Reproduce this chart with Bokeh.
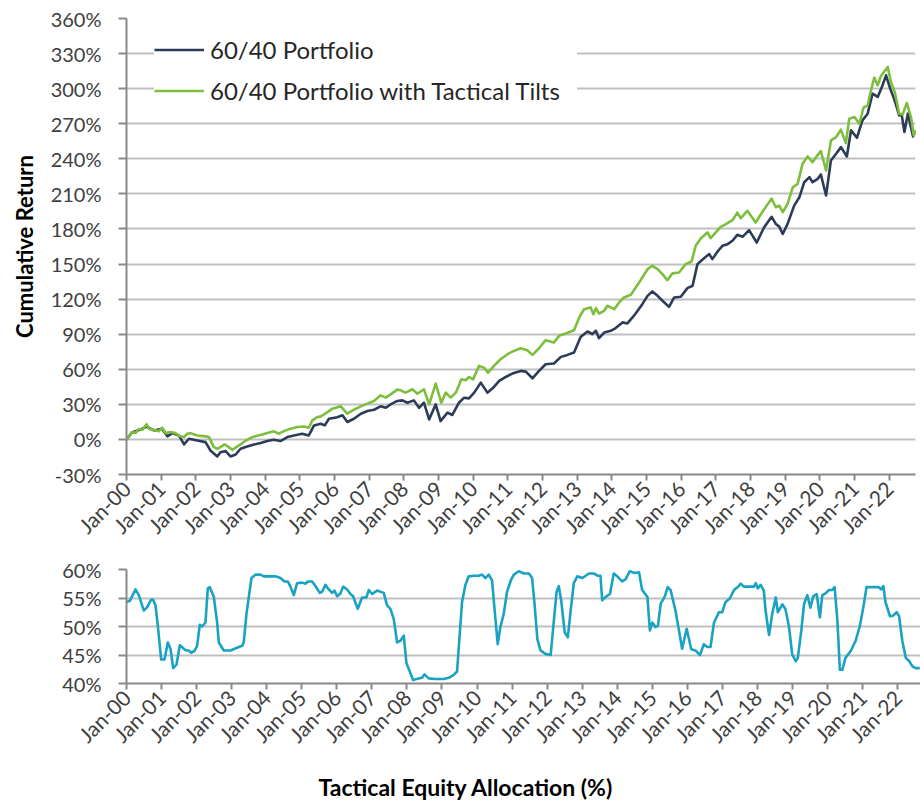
import math
from bokeh.plotting import figure
from bokeh.layouts import column
from bokeh.models import FixedTicker, PrintfTickFormatter, Range1d, Legend, LegendItem, Title
from bokeh.embed import file_html
from bokeh.resources import INLINE

# ---------------- data ----------------
year_ticks = list(range(0, 23))
year_labels = ["Jan-00", "Jan-01", "Jan-02", "Jan-03", "Jan-04", "Jan-05", "Jan-06", "Jan-07",
               "Jan-08", "Jan-09", "Jan-10", "Jan-11", "Jan-12", "Jan-13", "Jan-14", "Jan-15",
               "Jan-16", "Jan-17", "Jan-18", "Jan-19", "Jan-20", "Jan-21", "Jan-22"]

ret_ticks = [-30, 0, 30, 60, 90, 120, 150, 180, 210, 240, 270, 300, 330, 360]
alloc_ticks = [40, 45, 50, 55, 60]

# 60/40 Portfolio: time (years since Jan-2000), cumulative return (%)
base_t = [0.0, 0.16, 0.36, 0.58, 0.79, 1.03, 1.18, 1.32, 1.51, 1.66, 1.8, 2.04, 2.28, 2.42, 2.62,
          2.71, 2.86, 3.0, 3.15, 3.29, 3.48, 3.68, 3.87, 4.06, 4.25, 4.44, 4.64, 4.83, 5.07, 5.26,
          5.41, 5.6, 5.72, 5.84, 6.08, 6.23, 6.37, 6.56, 6.76, 6.95, 7.14, 7.33, 7.48, 7.62, 7.81,
          7.96, 8.1, 8.29, 8.44, 8.58, 8.73, 8.92, 9.06, 9.26, 9.4, 9.59, 9.74, 9.88, 10.03, 10.22,
          10.41, 10.6, 10.75, 10.94, 11.13, 11.37, 11.52, 11.71, 11.9, 12.09, 12.33, 12.53, 12.72,
          12.91, 13.1, 13.3, 13.44, 13.54, 13.63, 13.78, 13.97, 14.11, 14.31, 14.45, 14.64, 14.88,
          15.03, 15.17, 15.32, 15.46, 15.65, 15.8, 15.99, 16.18, 16.33, 16.47, 16.66, 16.81, 16.9,
          17.05, 17.19, 17.34, 17.48, 17.62, 17.77, 17.96, 18.18, 18.39, 18.61, 18.73, 18.83,
          18.93, 19.07, 19.26, 19.41, 19.55, 19.7, 19.79, 19.94, 20.03, 20.18, 20.32, 20.47,
          20.61, 20.78, 20.9, 21.07, 21.23, 21.38, 21.52, 21.67, 21.81, 21.91, 22.03, 22.15,
          22.29, 22.36, 22.44, 22.54, 22.69, 22.77]
base_v = [0, 6, 8, 11, 7.7, 9, 2.6, 5.4, 3.4, -4.3, 0.6, -0.9, -2.3, -9.4, -14.6,
          -10.9, -10, -14.6, -12.9, -8, -6, -4.3, -3.1, -1.4, -0.3, -1.4, 2, 3.4, 4.9, 3.4,
          12, 13.4, 12, 17.7, 19, 20.6, 14.9, 17.7, 22, 24.3, 25.4, 28.3, 27.1, 30, 32.9,
          33.4, 31.4, 33.4, 27, 31.4, 17.1, 30, 15.7, 22.9, 20.9, 31.4, 35.7, 35.1, 40, 48.6,
          40, 44.9, 50, 53.4, 56.3, 58.6, 58, 52.3, 58.6, 64.3, 64.9, 70.6, 72.3,
          74.3, 87.7, 92.3, 90, 92.9, 86.6, 91.4, 92.9, 95.2, 100.1, 99.2, 105.8, 115.7,
          122.8, 126.6, 122.8, 118.6, 113.4, 121.4, 122, 129.4, 131.4, 149.9, 155, 158.5, 154.2,
          160.7, 165.6, 167, 169.9, 175, 173.3, 179, 168.4, 181.3, 190.4, 184.3, 182,
          175.7, 184.3, 200, 207.1, 220, 224.3, 220, 222.9, 226.6, 208.6, 238.6, 244.3,
          250, 242, 264.3, 258, 272.9, 278.6, 295.7, 292.9, 302.9, 311.4, 300, 290.6,
          277.1, 278, 262.9, 278.6, 259.1, 264.3]

# 60/40 Portfolio with Tactical Tilts
tilt_t = [0.0, 0.16, 0.26, 0.36, 0.46, 0.58, 0.65, 0.79, 0.93, 1.03, 1.13, 1.27, 1.41, 1.56, 1.66,
          1.75, 1.85, 2.04, 2.28, 2.38, 2.52, 2.62, 2.71, 2.83, 2.95, 3.05, 3.2, 3.29, 3.44, 3.63,
          3.77, 3.92, 4.06, 4.25, 4.4, 4.54, 4.73, 4.93, 5.12, 5.26, 5.36, 5.5, 5.6, 5.7, 5.8,
          5.94, 6.18, 6.37, 6.56, 6.76, 6.95, 7.14, 7.33, 7.48, 7.62, 7.81, 7.91, 8.05, 8.25,
          8.39, 8.58, 8.73, 8.92, 9.08, 9.21, 9.35, 9.5, 9.66, 9.78, 9.88, 10.0, 10.17, 10.31,
          10.43, 10.6, 10.79, 10.99, 11.13, 11.37, 11.56, 11.71, 11.9, 12.09, 12.33, 12.48,
          12.67, 12.91, 13.06, 13.2, 13.39, 13.47, 13.54, 13.63, 13.78, 13.87, 14.07, 14.21,
          14.35, 14.55, 14.64, 14.83, 15.03, 15.17, 15.32, 15.46, 15.6, 15.75, 15.94, 16.13,
          16.3, 16.42, 16.57, 16.76, 16.85, 17.0, 17.14, 17.29, 17.48, 17.62, 17.72, 17.91,
          18.15, 18.35, 18.61, 18.73, 18.83, 18.93, 19.07, 19.22, 19.36, 19.5, 19.65, 19.79,
          19.89, 20.03, 20.18, 20.32, 20.47, 20.61, 20.75, 20.85, 21.0, 21.14, 21.26, 21.38,
          21.48, 21.57, 21.67, 21.76, 21.96, 22.05, 22.17, 22.29, 22.39, 22.51, 22.63, 22.71,
          22.77]
tilt_v = [0, 6.3, 5.4, 9, 8.3, 13, 9, 8.3, 7, 10, 5.4, 6.3, 5.4, 2.6, 2,
          4.9, 5.4, 3.4, 2.6, 2, -6.6, -8, -6.6, -4.3, -6.6, -8.9, -6, -4.3, -0.9, 2,
          3.1, 4.3, 5.4, 6.9, 4.9, 7.1, 9.1, 10.6, 11.1, 10, 16.3, 19, 19.7, 21.4, 23.4,
          26.3, 28.3, 22, 25.4, 28.3, 30.6, 32.9, 37.7, 35.7, 38.5, 42.6, 42, 40, 42.9,
          39.1, 42.9, 30, 47.7, 31.4, 40, 35.7, 40, 51.4, 50.6, 53.4, 51.4, 62.9, 61.4,
          57.1, 62.9, 68.6, 72.9, 75.1, 78, 76.3, 72.3, 78, 84.9, 82.9, 88.6,
          90.6, 93.4, 104.3, 111.4, 112.9, 107.1, 112.3, 107.7, 110, 114.3, 111.4, 117.1,
          121.4, 123.7, 127.7, 136.2, 145.6, 148.5, 145.6, 141.4, 136.2, 142, 142.8, 149.9,
          152.2, 165.6, 172.1, 177, 172.1, 177, 181.8, 184.1, 187.5, 194, 189.2, 195.5,
          185.5, 194.9, 206, 198.6, 200, 194.3, 201.4, 215.7, 218.6, 235.7, 242, 237.1,
          241.4, 246.6, 230, 255.7, 258.6, 264.9, 253.4, 274.3, 275.7, 270, 283.7, 285.7,
          299.1, 309.4, 302.9, 310.6, 318.6, 305.7, 296.3, 278.6, 278, 287.7, 275.7, 260,
          264.3]

# Tactical Equity Allocation (%)
alloc_t = [0.0, 0.095, 0.257, 0.352, 0.494, 0.589, 0.703, 0.76, 0.827, 0.894, 0.989, 1.084, 1.179,
           1.255, 1.331, 1.426, 1.521, 1.654, 1.711, 1.778, 1.844, 1.939, 2.015, 2.091, 2.158,
           2.253, 2.319, 2.376, 2.49, 2.586, 2.633, 2.776, 2.966, 3.203, 3.298, 3.346, 3.422,
           3.489, 3.565, 3.679, 3.821, 3.916, 4.249, 4.392, 4.506, 4.601, 4.677, 4.772, 4.867,
           5.01, 5.105, 5.171, 5.295, 5.39, 5.513, 5.58, 5.675, 5.77, 5.865, 5.932, 6.008, 6.103,
           6.179, 6.293, 6.388, 6.464, 6.597, 6.721, 6.844, 6.911, 7.006, 7.148, 7.338, 7.433,
           7.529, 7.624, 7.719, 7.814, 7.909, 7.985, 8.08, 8.175, 8.337, 8.432, 8.498, 8.622,
           8.812, 9.049, 9.192, 9.335, 9.43, 9.506, 9.572, 9.667, 9.762, 9.905, 10.048, 10.143,
           10.238, 10.333, 10.428, 10.494, 10.589, 10.665, 10.76, 10.856, 10.97,
           11.05, 11.19, 11.34, 11.48, 11.57, 11.64, 11.72, 11.81, 11.95, 12.1, 12.19, 12.27,
           12.33, 12.4, 12.5, 12.59, 12.67, 12.76, 12.86, 13.0, 13.1, 13.19, 13.33, 13.45, 13.52,
           13.57, 13.67, 13.79, 13.9, 14.0, 14.14, 14.24, 14.36, 14.49, 14.62, 14.71, 14.86,
           14.93, 15.0, 15.09, 15.16, 15.24, 15.35, 15.44, 15.52, 15.66, 15.76, 15.85, 15.98,
           16.11, 16.23, 16.36, 16.47, 16.57, 16.66, 16.76, 16.9, 16.99, 17.09, 17.21, 17.33,
           17.47, 17.52, 17.61, 17.76, 17.9, 17.95, 18.01, 18.09, 18.18, 18.23, 18.33, 18.42,
           18.52, 18.58, 18.71, 18.8, 18.9, 18.99, 19.09, 19.15, 19.25, 19.33, 19.42, 19.51,
           19.59, 19.69, 19.78, 19.85, 19.94, 20.04, 20.13, 20.2, 20.28, 20.35, 20.42, 20.51,
           20.66, 20.8, 20.92, 21.02, 21.11, 21.27, 21.46, 21.53, 21.59, 21.65, 21.78, 21.87,
           21.97, 22.04, 22.13, 22.23, 22.32, 22.42, 22.51, 22.63]
alloc_v = [54.3, 54.5, 56.5, 55.5, 52.8, 53.4, 54.7, 54.7, 53.7, 50.1, 44.2, 44.2, 47.2,
           46.1, 42.7, 43.3, 46.7, 46.0, 45.8, 45.8, 45.4, 45.7, 46.6, 50.3, 50.0,
           50.7, 56.7, 56.9, 55.2, 50.7, 47.2, 45.8, 45.8, 46.4, 46.6, 47.3, 52.2,
           55.2, 58.5, 59.1, 59.1, 58.8, 58.8, 58.5, 57.9, 57.9, 57.0, 55.5, 57.6,
           57.7, 57.5, 57.9, 57.9, 57.1, 55.9, 56.1, 57.3, 56.5, 55.9, 56.3, 55.3, 55.8,
           57.0, 56.5, 55.7, 55.3, 53.1, 55.1, 55.1, 56.4, 55.7, 56.3, 55.9, 53.7,
           53.1, 51.3, 47.2, 47.5, 48.4, 43.6, 42.1, 40.6, 40.9, 41.0, 41.6, 40.9,
           40.8, 40.8, 41.0, 41.5, 42.1, 48.7, 54.3, 57.3, 58.8, 58.9, 58.9, 59.1,
           58.5, 59.1, 58.1, 53.4, 46.9, 49.9, 52.2, 56.1, 58.2,
           59.1, 59.7, 59.3, 59.3, 58.5, 54.0, 47.8, 45.8, 45.2, 45.0, 51.0, 56.1,
           57.1, 54.6, 49.0, 48.1, 52.8, 57.6, 58.8, 58.5, 58.9, 59.3, 59.3, 58.9, 58.9,
           54.6, 55.2, 55.7, 59.3, 58.8, 57.9, 58.3, 59.7, 59.4, 59.5, 56.4, 55.2,
           49.3, 50.7, 49.9, 50.1, 54.0, 55.2, 56.9, 56.4, 52.8, 49.3, 46.1, 49.6,
           46.0, 45.8, 45.0, 46.9, 46.4, 46.4, 50.7, 52.5, 52.5, 54.3, 54.9, 56.4,
           57.1, 57.5, 57.0, 57.0, 57.0, 57.6, 56.7, 57.3, 56.3, 52.8, 48.5, 52.2,
           55.1, 52.5, 53.9, 53.0, 49.9, 45.1, 43.9, 44.5, 49.3, 54.0, 55.5, 53.3,
           55.3, 55.7, 51.6, 55.5, 55.8, 56.4, 56.4, 56.9, 51.0, 42.4, 42.4, 44.5,
           45.7, 47.5, 50.1, 53.4, 56.9, 56.9, 56.9, 56.5, 57.1, 54.3, 51.8, 51.9,
           52.5, 51.8, 47.5, 44.5, 44.0, 43.0, 42.7, 42.7]

# ---------------- styling ----------------
FONT = "Lato"
TICK_COLOR = "#404040"
GRID = "#BFBFBF"
AXIS = "#898989"
NAVY = "#2C3C58"
GREEN = "#7DBE3C"
TEAL = "#1AA2C2"
overrides = {t: lab for t, lab in zip(year_ticks, year_labels)}


def style(p, yticks):
    p.outline_line_color = None
    p.background_fill_color = "white"
    p.border_fill_color = "white"
    p.xgrid.grid_line_color = None
    p.ygrid.grid_line_color = GRID
    p.ygrid.grid_line_width = 2
    p.ygrid.ticker = FixedTicker(ticks=yticks)
    for ax in (p.xaxis[0], p.yaxis[0]):
        ax.axis_line_color = AXIS
        ax.axis_line_width = 2
        ax.major_tick_line_color = AXIS
        ax.major_tick_line_width = 2
        ax.major_tick_in = 0
        ax.minor_tick_line_color = None
        ax.major_label_text_font = FONT
        ax.major_label_text_color = TICK_COLOR
        ax.axis_label_text_font = FONT
        ax.axis_label_text_font_size = "22px"
        ax.axis_label_text_font_style = "bold"
        ax.axis_label_text_color = "black"
    p.xaxis[0].ticker = FixedTicker(ticks=year_ticks)
    p.xaxis[0].major_label_overrides = overrides
    p.xaxis[0].major_label_orientation = math.pi / 4
    p.xaxis[0].major_label_text_font_size = "21px"
    p.xaxis[0].major_tick_out = 6
    p.xaxis[0].major_label_standoff = 4
    p.yaxis[0].ticker = FixedTicker(ticks=yticks)
    p.yaxis[0].formatter = PrintfTickFormatter(format="%d%%")
    p.yaxis[0].major_label_text_font_size = "20px"
    p.yaxis[0].major_tick_out = 8
    p.yaxis[0].major_label_standoff = 17


p1 = figure(frame_width=789, frame_height=456, x_range=Range1d(0, 22.76), y_range=Range1d(-30, 360),
            output_backend="svg", toolbar_location=None,
            min_border_left=126, min_border_right=5, min_border_top=18, min_border_bottom=81)
style(p1, ret_ticks)
p1.yaxis[0].axis_label = "Cumulative Return"
p1.yaxis[0].axis_label_standoff = 10

r_base = p1.line(base_t, base_v, line_color=NAVY, line_width=2.6, line_join="round")
r_tilt = p1.line(tilt_t, tilt_v, line_color=GREEN, line_width=2.6, line_join="round")

legend = Legend(items=[LegendItem(label="60/40 Portfolio", renderers=[r_base]),
                       LegendItem(label="60/40 Portfolio with Tactical Tilts", renderers=[r_tilt])],
                location=(28, 369))
legend.label_text_font = FONT
legend.label_text_font_size = "24px"
legend.label_text_color = "#262626"
legend.padding = 10
legend.spacing = 12
legend.glyph_width = 50
legend.glyph_height = 25
legend.label_height = 25
legend.label_width = 367
legend.label_standoff = 6
legend.border_line_color = None
legend.background_fill_color = "white"
legend.background_fill_alpha = 1.0
p1.add_layout(legend)

p2 = figure(frame_width=794, frame_height=114, x_range=Range1d(0, 22.65), y_range=Range1d(40, 60),
            output_backend="svg", toolbar_location=None,
            min_border_left=126, min_border_right=0, min_border_top=14, min_border_bottom=123)
style(p2, alloc_ticks)
p2.line(alloc_t, alloc_v, line_color=TEAL, line_width=2.6, line_join="round")

# x-axis title, placed like the original (left part of the chart, below the tick labels)
x_title = Title(text="Tactical Equity Allocation (%)", align="left", offset=192, standoff=24,
                text_font=FONT, text_font_size="23px", text_font_style="bold", text_color="black")
p2.add_layout(x_title, "below")

layout = column(p1, p2, spacing=0)
open("out.html", "w").write(file_html(layout, INLINE))
